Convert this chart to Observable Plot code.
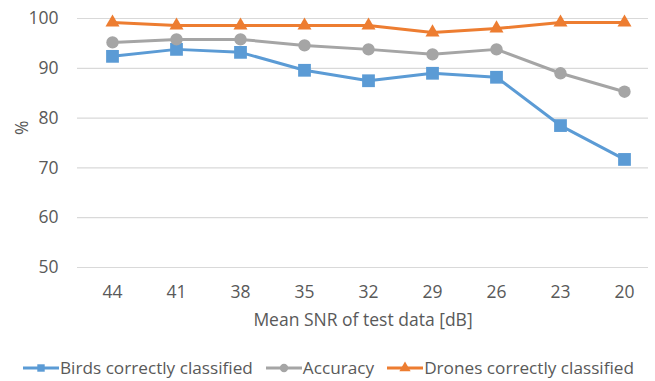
<!DOCTYPE html>
<html>
<head>
<meta charset="utf-8">
<script src="https://cdn.jsdelivr.net/npm/d3@7"></script>
<script src="https://cdn.jsdelivr.net/npm/@observablehq/plot@0.6"></script>
<style>
  body { margin: 0; background: #fff; font-family: "Open Sans", sans-serif; color: #595959; }
  #chart svg { display: block; }
  .legend { display: flex; align-items: center; margin-left: 23px; margin-top: 22px; font-size: 17.2px; white-space: nowrap; line-height: 22px; }
  .legend .item { display: flex; align-items: center; margin-right: 13px; }
  .legend svg { display: block; margin-right: 1px; }
</style>
</head>
<body>
<div id="chart"></div>
<div class="legend" id="legend"></div>
<script>
// Mean SNR of the test data, from clean to noisy
const snr = ["44", "41", "38", "35", "32", "29", "26", "23", "20"];
const birds = [92.4, 93.8, 93.2, 89.6, 87.5, 89.0, 88.2, 78.5, 71.7];
const accuracy = [95.2, 95.8, 95.8, 94.6, 93.8, 92.8, 93.8, 89.0, 85.3];
const drones = [99.2, 98.6, 98.6, 98.6, 98.6, 97.2, 98.0, 99.2, 99.2];
const yTicks = [50, 60, 70, 80, 90, 100];

const series = [
  {name: "Birds correctly classified", values: birds, color: "#5B9BD5", symbol: "square", r: 7.2},
  {name: "Accuracy", values: accuracy, color: "#A5A5A5", symbol: "circle", r: 6.2},
  {name: "Drones correctly classified", values: drones, color: "#ED7D31", symbol: "triangle", r: 5.2}
];

const rows = series.flatMap(s => snr.map((x, i) => ({series: s.name, x, y: s.values[i]})));

const marks = [
  Plot.gridY(yTicks, {stroke: "#D9D9D9", strokeOpacity: 1, strokeWidth: 1.2}),
  Plot.axisY(yTicks, {
    tickSize: 0, tickPadding: 19, fontSize: 17.5, fill: "#595959", label: null
  }),
  // rotated "%" title beside the value axis
  Plot.text(["%"], {frameAnchor: "left", dx: -55, dy: -8, rotate: -90, fontSize: 17.5, fill: "#595959"}),
  Plot.axisX({
    tickSize: 0, tickPadding: 18, fontSize: 17.5, fill: "#595959",
    label: "Mean SNR of test data [dB]", labelAnchor: "center", labelArrow: "none", labelOffset: 58
  })
];
for (const s of series) {
  const data = rows.filter(d => d.series === s.name);
  marks.push(Plot.line(data, {x: "x", y: "y", stroke: s.color, strokeWidth: 3}));
  marks.push(Plot.dot(data, {x: "x", y: "y", fill: s.color, symbol: s.symbol, r: s.r}));
}

const chart = Plot.plot({
  width: 655,
  height: 335,
  marginLeft: 77,
  marginRight: 7,
  marginTop: 18,
  marginBottom: 68,
  style: {fontFamily: "Open Sans, sans-serif", fontSize: "17.5px", color: "#595959"},
  x: {type: "point", domain: snr, range: [110, 625], padding: 0},
  y: {domain: [50, 100]},
  marks
});
document.getElementById("chart").appendChild(chart);

// Legend: line-with-marker swatches
const legend = d3.select("#legend");
for (const s of series) {
  const item = legend.append("div").attr("class", "item");
  const sw = item.append("svg").attr("width", 36).attr("height", 16);
  sw.append("line").attr("x1", 0).attr("x2", 36).attr("y1", 8).attr("y2", 8)
    .attr("stroke", s.color).attr("stroke-width", 3);
  sw.append("path").attr("transform", "translate(18,8)")
    .attr("d", d3.symbol(s.symbol === "square" ? d3.symbolSquare : s.symbol === "circle" ? d3.symbolCircle : d3.symbolTriangle, 55)())
    .attr("fill", s.color);
  item.append("span").text(s.name);
}
</script>
</body>
</html>
